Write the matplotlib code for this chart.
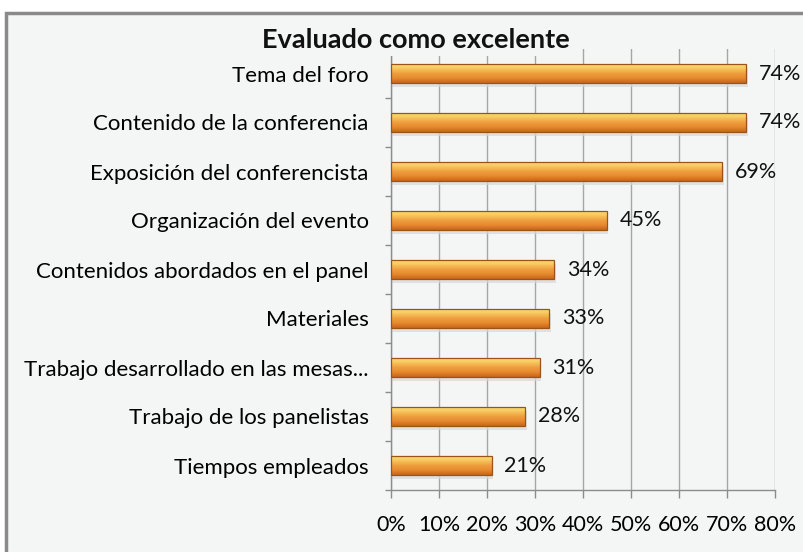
import matplotlib.pyplot as plt
import matplotlib.patches as mpatches
from matplotlib.colors import LinearSegmentedColormap
import numpy as np

categories = ['Tema del foro', 'Contenido de la conferencia', 'Exposición del conferencista',
              'Organización del evento', 'Contenidos abordados en el panel', 'Materiales',
              'Trabajo desarrollado en las mesas...', 'Trabajo de los panelistas', 'Tiempos empleados']
values = [74, 74, 69, 45, 34, 33, 31, 28, 21]
xticks = [0, 10, 20, 30, 40, 50, 60, 70, 80]
title = 'Evaluado como excelente'

plt.rcParams['font.family'] = ['Lato', 'DejaVu Sans']
bg = '#f4f5f5'

fig = plt.figure(figsize=(8.04, 5.52), dpi=100)
fig.patch.set_facecolor('white')
# marco del gráfico
frame = mpatches.Rectangle((6 / 804, -0.01), 1.0, 1 - 13 / 552 + 0.01, transform=fig.transFigure,
                           facecolor=bg, edgecolor='#8a8a8a', linewidth=2.5, zorder=-10)
fig.add_artist(frame)

ax = fig.add_axes([391 / 804, 1 - 490 / 552, (775 - 391) / 804, (490 - 49) / 552])
ax.set_facecolor(bg)

y = np.arange(len(categories))
bar_h = 0.40

# degradado naranja de las barras
cmap = LinearSegmentedColormap.from_list('naranja', ['#fbe27a', '#f8c860', '#f0a040', '#e68a2e', '#c8661c'])
grad = np.linspace(0, 1, 64).reshape(-1, 1)
for yi, v in zip(y, values):
    # sombra
    ax.add_patch(mpatches.Rectangle((0.3, yi - bar_h / 2 + 0.08), v, bar_h, facecolor='#d8d8d8',
                                    edgecolor='none', alpha=0.7, zorder=2))
    rect = mpatches.Rectangle((0, yi - bar_h / 2), v, bar_h, facecolor='none',
                              edgecolor='#9a5418', linewidth=0.9, zorder=4)
    ax.add_patch(rect)
    im = ax.imshow(grad, cmap=cmap, aspect='auto', extent=(0, v, yi + bar_h / 2, yi - bar_h / 2),
                   zorder=3, interpolation='bilinear')
    im.set_clip_path(rect)
    ax.annotate(f'{v}%', xy=(v, yi), xytext=(9, 0), textcoords='offset points',
                va='center', ha='left', fontsize=15.5, color='#111111', zorder=5)

ax.set_xlim(0, 80)
ax.set_ylim(len(categories) - 0.5, -0.5)

ax.set_yticks(y)
ax.set_yticklabels(categories, fontsize=16)
ax.tick_params(axis='y', length=0, pad=16)
ax.set_yticks(np.arange(-0.5, len(categories), 1), minor=True)
ax.tick_params(axis='y', which='minor', length=4, color='#8c8c8c', width=1)

ax.set_xticks(xticks)
ax.set_xticklabels([f'{t}%' for t in xticks], fontsize=15.5)
ax.tick_params(axis='x', length=6, color='#8c8c8c', width=1, pad=12)
ax.grid(axis='x', color='#a6a6a6', linewidth=1, zorder=1)
ax.set_axisbelow(True)

for s in ['top', 'right']:
    ax.spines[s].set_visible(False)
for s in ['left', 'bottom']:
    ax.spines[s].set_color('#8c8c8c')
    ax.spines[s].set_linewidth(1)

fig.text(416 / 804, 1 - 40 / 552, title, ha='center', va='center', fontsize=19.5, fontweight='bold',
         color='#111111', zorder=10,
         bbox=dict(boxstyle='square,pad=0.15', facecolor=bg, edgecolor='none'))

fig.savefig('out.png', dpi=100, facecolor=fig.get_facecolor())
